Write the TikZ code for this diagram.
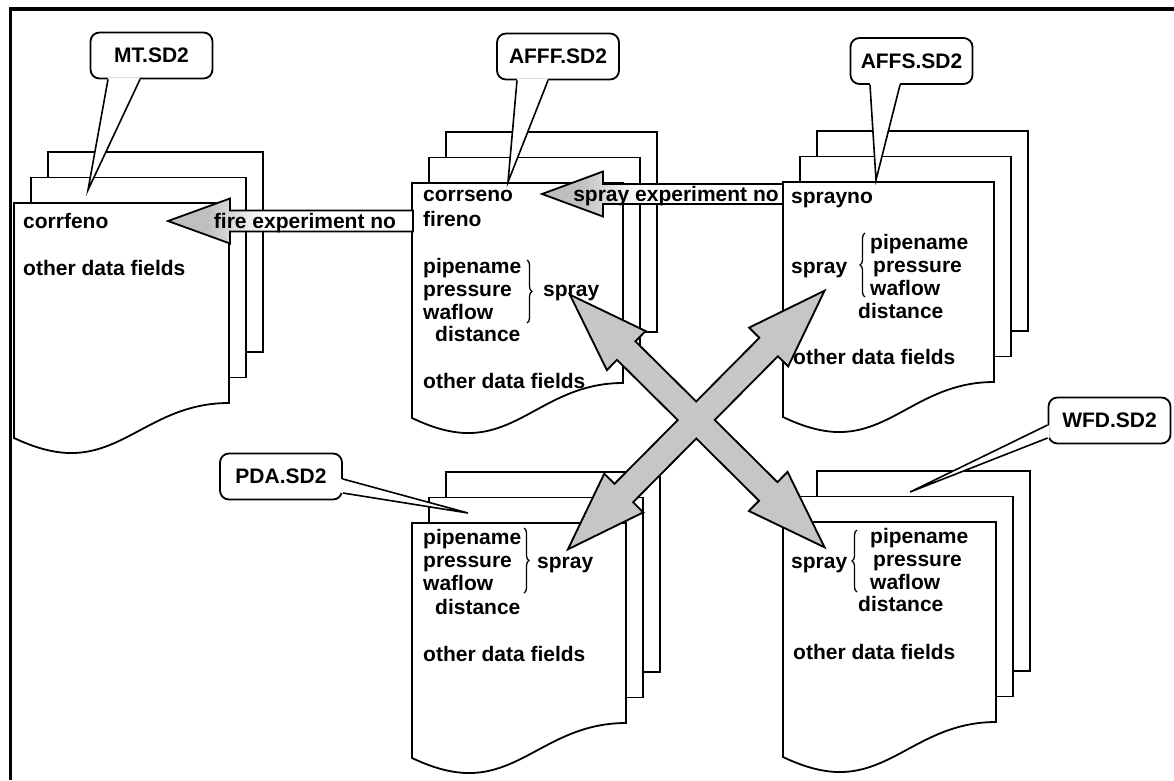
\documentclass[tikz,border=0pt]{standalone}
\usepackage{fontspec}
\setmainfont{Liberation Sans}
\usepackage{tikz}
\usetikzlibrary{calc,decorations.pathreplacing}
\pgfdeclarehorizontalshading{barfade}{100bp}{color(0bp)=(gray!50); color(33bp)=(gray!50); color(45bp)=(white); color(100bp)=(white)}

\begin{document}
\begin{tikzpicture}[x=1pt,y=-1pt,
  sheet/.style={draw=black,fill=white,line width=1.8pt,line join=miter},
  field/.style={anchor=base west,inner sep=0pt,font=\bfseries\fontsize{21}{23}\selectfont},
  tag/.style={draw=black,fill=white,line width=1.8pt,rounded corners=9pt,minimum width=122pt,minimum height=46pt,inner sep=0pt,font=\bfseries\fontsize{21}{23}\selectfont},
  pointer/.style={draw=black,line width=1.6pt},
  bar/.style={draw=black,line width=1.8pt,shade,shading=barfade},
  bartext/.style={anchor=base,inner sep=0pt,font=\bfseries\fontsize{21}{23}\selectfont},
  brace/.style={decorate,decoration={brace,amplitude=5pt},line width=1.3pt},
  crossline/.style={draw=black,line width=4pt},
  crossfill/.style={fill=gray!45},
  frame/.style={draw=black,line width=3.5pt}]
\useasboundingbox (0,0) rectangle (1174,780);
\draw[frame] (10.5,780) -- (10.5,9) -- (1174,9);

% file stacks: back sheet, middle sheet, front sheet
\foreach \n/\x/\y/\w in {mt/14/203/215,afff/412/183/211,affs/783/182/211,pda/412/523/214,wfd/783/522/213} {
  \draw[sheet] (\x+34,\y-51) rectangle ++(\w,200);
  \draw[sheet] (\x+17,\y-25.5) rectangle ++(\w,200);
  \draw[sheet] (\x,\y) coordinate (\n) -- ++(\w,0) -- ++(0,200)
    .. controls (\x+0.66*\w,\y+200) and (\x+0.52*\w,\y+252) .. (\x+0.25*\w,\y+250)
    .. controls (\x+0.16*\w,\y+249) and (\x+0.08*\w,\y+243) .. (\x,\y+235) -- cycle;
}

% MT.SD2
\node[field] (mtcorr) at (23,228) {corrfeno};
\node[field] (mtother) at (23,275) {other data fields};

% AFFF.SD2
\node[field] (afffcorr) at (423,201) {corrseno};
\node[field] (affffire) at (423,226) {fireno};
\foreach \t [count=\i] in {pipename,pressure,waflow}
  \node[field] (afff\i) at (423,250+23*\i) {\t};
\node[field] (afffdist) at (435,341) {distance};
\draw[brace] (527,260) -- (527,323);
\node[field] (afffspray) at (543,296) {spray};
\node[field] (afffother) at (423,388) {other data fields};

% AFFS.SD2
\node[field] (affsno) at (791,203) {sprayno};
\node[field] (affsspray) at (791,273) {spray};
\draw[brace] (865,297) -- (865,233);
\foreach \t/\dx [count=\i] in {pipename/870,pressure/873,waflow/870}
  \node[field] (affs\i) at (\dx,226+23*\i) {\t};
\node[field] (affsdist) at (858,318) {distance};
\node[field] (affsother) at (793,364) {other data fields};

% PDA.SD2
\foreach \t [count=\i] in {pipename,pressure,waflow}
  \node[field] (pda\i) at (423,521+23*\i) {\t};
\node[field] (pdadist) at (435,614) {distance};
\draw[brace] (524,528) -- (524,593);
\node[field] (pdaspray) at (537,568) {spray};
\node[field] (pdaother) at (423,661) {other data fields};

% WFD.SD2
\node[field] (wfdspray) at (791,568) {spray};
\draw[brace] (857,592) -- (857,530);
\foreach \t/\dx [count=\i] in {pipename/870,pressure/873,waflow/870}
  \node[field] (wfd\i) at (\dx,520+23*\i) {\t};
\node[field] (wfddist) at (858,611) {distance};
\node[field] (wfdother) at (793,659) {other data fields};

% key links
\coordinate (firetip) at (168,221);
\coordinate (fireend) at (413,221);
\path[bar] (firetip) -- ++(62,-22.5) -- ++(0,12) -- ($(fireend)+(0,-10.5)$) -- ($(fireend)+(0,10.5)$) -- ($(firetip)+(62,10.5)$) -- ++(0,12) -- cycle;
\node[bartext] (firelab) at (305,228) {fire experiment no};
\coordinate (spraytip) at (542,194);
\coordinate (sprayend) at (783,194);
\path[bar] (spraytip) -- ++(61,-22.5) -- ++(0,12.5) -- ($(sprayend)+(0,-10)$) -- ($(sprayend)+(0,10)$) -- ($(spraytip)+(61,10)$) -- ++(0,12.5) -- cycle;
\node[bartext] (spraylab) at (676,201) {spray experiment no};

% spray cross links
\coordinate (xa1) at ($(afffspray.base)+(1,1)$);
\coordinate (xb1) at ($(wfdspray.base)+(3,-23)$);
\coordinate (xa2) at ($(affsspray.base)+(3,20)$);
\coordinate (xb2) at ($(pdaspray.base)+(5,-21)$);
\foreach \pass in {crossline,crossfill}
  \foreach \a/\b in {xa1/xb1,xa2/xb2} {
    \coordinate (ha) at ($(\a)!75pt!(\b)$);
    \coordinate (hb) at ($(\b)!75pt!(\a)$);
    \path[\pass] (\a) -- ($(ha)!26pt!90:(\b)$) -- ($(ha)!12pt!90:(\b)$) -- ($(hb)!12pt!-90:(\a)$) -- ($(hb)!26pt!-90:(\a)$) -- (\b)
      -- ($(hb)!26pt!90:(\a)$) -- ($(hb)!12pt!90:(\a)$) -- ($(ha)!12pt!-90:(\b)$) -- ($(ha)!26pt!-90:(\b)$) -- cycle;
  }

% file name tags
\node[tag] (mttag) at (151.5,55.5) {MT.SD2};
\coordinate (mtpt) at (88,190);
\path[fill=white] ($(mttag.south)+(-43.5,-2)$) -- (mtpt) -- ($(mttag.south)+(-11.5,-2)$) -- cycle;
\draw[pointer] ($(mttag.south)+(-43.5,0)$) -- (mtpt) -- ($(mttag.south)+(-11.5,0)$);

\node[tag] (afftag) at (558,56.5) {AFFF.SD2};
\coordinate (affpt) at (508,182);
\path[fill=white] ($(afftag.south)+(-41,-2)$) -- (affpt) -- ($(afftag.south)+(-10,-2)$) -- cycle;
\draw[pointer] ($(afftag.south)+(-41,0)$) -- (affpt) -- ($(afftag.south)+(-10,0)$);

\node[tag] (affstag) at (911.5,61) {AFFS.SD2};
\coordinate (affspt) at (876,180);
\path[fill=white] ($(affstag.south)+(-41.5,-2)$) -- (affspt) -- ($(affstag.south)+(-11.5,-2)$) -- cycle;
\draw[pointer] ($(affstag.south)+(-41.5,0)$) -- (affspt) -- ($(affstag.south)+(-11.5,0)$);

\node[tag] (pdatag) at (281,476.5) {PDA.SD2};
\coordinate (pdapt) at (468,513);
\path[fill=white] ($(pdatag.east)+(-2,2.5)$) -- (pdapt) -- ($(pdatag.east)+(-2,16.5)$) -- cycle;
\draw[pointer] ($(pdatag.east)+(0,2.5)$) -- (pdapt) -- ($(pdatag.east)+(0,16.5)$);

\node[tag] (wfdtag) at (1109.5,420.5) {WFD.SD2};
\coordinate (wfdpt) at (910,492);
\path[fill=white] ($(wfdtag.west)+(2,4.5)$) -- (wfdpt) -- ($(wfdtag.west)+(2,17.5)$) -- cycle;
\draw[pointer] ($(wfdtag.west)+(0,4.5)$) -- (wfdpt) -- ($(wfdtag.west)+(0,17.5)$);
\end{tikzpicture}
\end{document}
